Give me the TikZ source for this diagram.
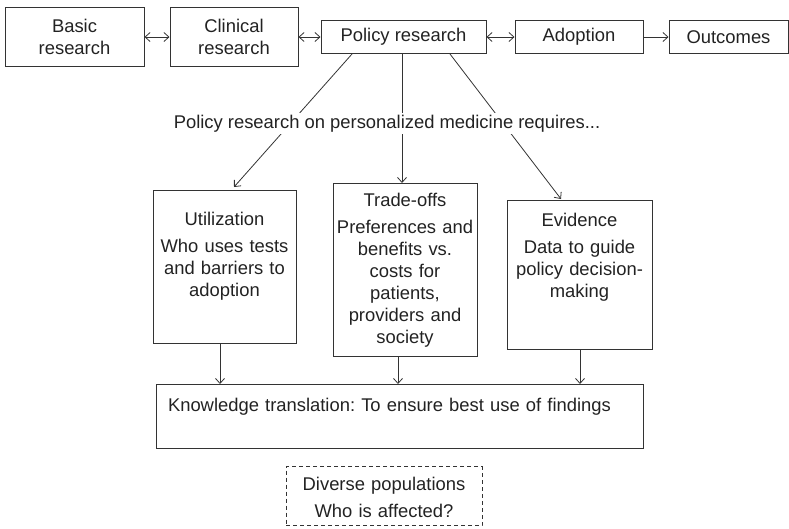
\documentclass[tikz,border=0pt]{standalone}
\usepackage{fontspec}
\setmainfont{Liberation Sans}
\usetikzlibrary{arrows.meta}
\definecolor{linegray}{HTML}{333333}
\definecolor{textgray}{HTML}{222222}
\frenchspacing

\begin{document}
\begin{tikzpicture}[
    x=1pt, y=-1pt,
    >={Straight Barb[length=5pt,width=9pt]},
    every node/.style = {font=\fontsize{18.4}{22}\selectfont, text=textgray},
    topbox/.style = {rectangle, draw=linegray, line width=1pt, align=center, inner sep=0pt},
    colbox/.style = {rectangle, draw=linegray, line width=1pt, align=center, anchor=north, inner xsep=0pt, inner ysep=0pt},
    arrow/.style = {->, line width=0.8pt, draw=linegray}
  ]
  \useasboundingbox (0,0) rectangle (789,528);
  % top row
  \node[topbox, minimum width=139pt, minimum height=59pt] (basic)    at (74.5,37)  {Basic\\research};
  \node[topbox, minimum width=128pt, minimum height=59pt] (clinical) at (234,37)   {Clinical\\research};
  \node[topbox, minimum width=165pt, minimum height=33pt] (policy)   at (403.5,37) {Policy research};
  \node[topbox, minimum width=128pt, minimum height=33pt] (adoption) at (579,37)   {Adoption};
  \node[topbox, minimum width=119pt, minimum height=33pt] (outcomes) at (728.5,37) {Outcomes};
  \draw[arrow, <->] (basic) -- (clinical);
  \draw[arrow, <->] (clinical) -- (policy);
  \draw[arrow, <->] (policy) -- (adoption);
  \draw[arrow] (adoption) -- (outcomes);

  % three requirements
  \node[colbox, text width=143pt, text height=35pt, text depth=118pt] (util) at (224.5,190)
    {Utilization\\[5pt]Who uses tests\\and barriers to\\adoption};
  \node[colbox, text width=144pt, text height=23pt, text depth=150pt] (trade) at (405,183)
    {Trade-offs\\[5pt]Preferences and\\benefits vs.\\costs for\\patients,\\providers and\\society};
  \node[colbox, text width=145pt, text height=26pt, text depth=123pt] (evid) at (579.5,200)
    {Evidence\\[5pt]Data to guide\\policy decision-\\making};
  \draw[arrow] ([xshift=-51.5pt]policy.south) -- ([xshift=9.5pt,yshift=3pt]util.north);
  \draw[arrow] ([xshift=-1.5pt]policy.south) -- ([xshift=-1.5pt]policy.south |- trade.north);
  \draw[arrow] ([xshift=46.5pt]policy.south) -- ([xshift=-18.5pt,yshift=1pt]evid.north);
  \node[fill=white, inner sep=2pt, anchor=base] (req) at (387,128)
    {Policy research on personalized medicine requires...};

  % knowledge translation
  \node[colbox, align=left, text width=463pt, inner xsep=12pt, text height=27pt, text depth=37pt] (know) at (399.5,384)
    {Knowledge translation: To ensure best use of findings};
  \draw[arrow] ([xshift=-4.5pt]util.south) -- ([xshift=-4.5pt]util.south |- know.north);
  \draw[arrow] ([xshift=-7pt]trade.south) -- ([xshift=-7pt]trade.south |- know.north);
  \draw[arrow] ([xshift=0.5pt]evid.south) -- ([xshift=0.5pt]evid.south |- know.north);

  \node[colbox, dash pattern=on 4pt off 3pt, text width=196pt, text height=24pt, text depth=35pt] (diverse) at (384,466)
    {Diverse populations\\[5pt]Who is affected?};
\end{tikzpicture}
\end{document}
